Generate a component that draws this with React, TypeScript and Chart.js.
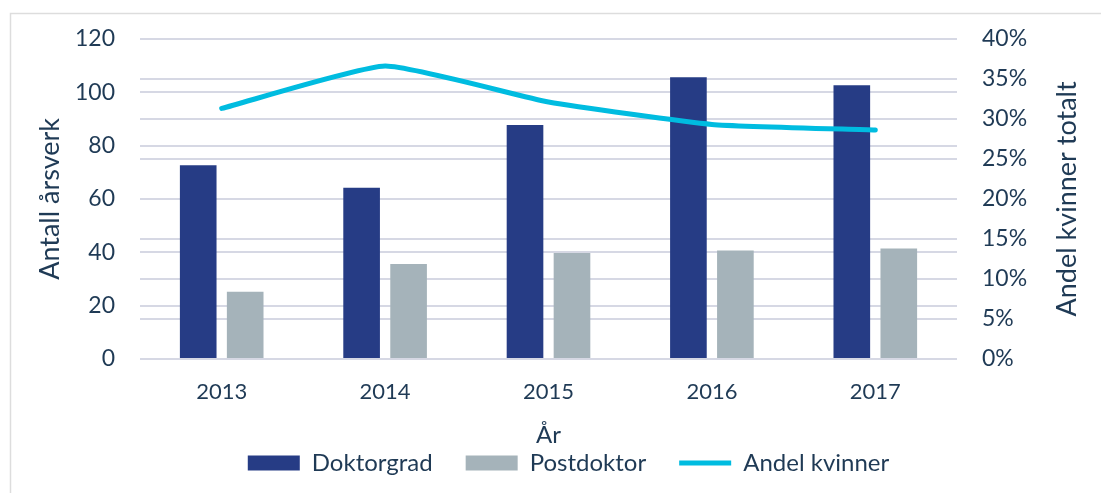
import React, { useEffect, useRef } from "react";
import { Chart, registerables } from "chart.js";

Chart.register(...registerables);

const categories = ["2013", "2014", "2015", "2016", "2017"];
const doktorgrad = [72.6, 64.2, 87.7, 105.6, 102.6];
const postdoktor = [25.2, 35.6, 39.7, 40.7, 41.4];
const andelKvinner = [31.3, 36.6, 32.1, 29.3, 28.6];

const leftTitle = "Antall årsverk";
const rightTitle = "Andel kvinner totalt";
const xTitle = "År";

const TEXT = "#1F3A55";
const GRID = "#D6D8E4";
const FONT = "Lato, 'Noto Sans', sans-serif";
const PAD_LEFT = 36;

export default function App() {
  const ref = useRef<HTMLCanvasElement | null>(null);

  useEffect(() => {
    const canvas = ref.current;
    if (!canvas) return;

    const decor = {
      id: "decor",
      beforeDraw(chart: any) {
        const ctx = chart.ctx;
        ctx.save();
        ctx.strokeStyle = "#DDDDDD";
        ctx.lineWidth = 1.5;
        ctx.beginPath();
        ctx.moveTo(10.5, chart.height);
        ctx.lineTo(10.5, 13.5);
        ctx.lineTo(chart.width, 13.5);
        ctx.stroke();
        ctx.restore();
      },
      afterDraw(chart: any) {
        const ctx = chart.ctx;
        const area = chart.chartArea;
        ctx.save();
        ctx.fillStyle = TEXT;
        ctx.font = `27px ${FONT}`;
        ctx.textAlign = "center";
        ctx.textBaseline = "middle";
        ctx.translate(1067, (area.top + area.bottom) / 2);
        ctx.rotate(-Math.PI / 2);
        ctx.fillText(rightTitle, 0, 0);
        ctx.restore();
      },
    };

    const chart = new Chart(canvas, {
      type: "bar",
      data: {
        labels: categories,
        datasets: [
          {
            label: "Doktorgrad",
            data: doktorgrad,
            backgroundColor: "#263C85",
            borderWidth: 0,
            yAxisID: "y",
            categoryPercentage: 0.575,
            barPercentage: 0.78,
            pointStyle: "rect",
            order: 2,
          },
          {
            label: "Postdoktor",
            data: postdoktor,
            backgroundColor: "#A5B3BA",
            borderWidth: 0,
            yAxisID: "y",
            categoryPercentage: 0.575,
            barPercentage: 0.78,
            pointStyle: "rect",
            order: 3,
          },
          {
            type: "line",
            label: "Andel kvinner",
            data: andelKvinner,
            borderColor: "#00BCE0",
            backgroundColor: "#00BCE0",
            borderWidth: 5,
            borderCapStyle: "round",
            borderJoinStyle: "round",
            tension: 0.15,
            pointRadius: 0,
            pointHoverRadius: 0,
            pointStyle: "line",
            yAxisID: "y1",
            order: 1,
          } as any,
        ],
      },
      options: {
        animation: false,
        responsive: false,
        layout: { padding: { left: PAD_LEFT, right: 0, top: 28, bottom: 8 } },
        plugins: {
          tooltip: { enabled: false },
          legend: {
            position: "bottom",
            labels: {
              usePointStyle: true,
              pointStyleWidth: 52,
              boxHeight: 15,
              padding: 33,
              color: TEXT,
              font: { family: FONT, size: 24 },
              sort: (a: any, b: any) => a.datasetIndex - b.datasetIndex,
            },
          },
        },
        scales: {
          x: {
            grid: { display: false, drawTicks: false },
            border: { display: false },
            ticks: {
              color: TEXT,
              font: { family: FONT, size: 22 },
              padding: 20,
            },
            title: {
              display: true,
              text: xTitle,
              color: TEXT,
              font: { family: FONT, size: 24 },
              padding: { top: 0, bottom: -32 },
            },
            afterFit(scale: any) {
              scale.height = 59;
            },
          },
          y: {
            position: "left",
            min: 0,
            max: 120,
            ticks: {
              stepSize: 20,
              color: TEXT,
              font: { family: FONT, size: 23 },
              padding: 25,
            },
            grid: { color: GRID, lineWidth: 2, drawTicks: false },
            border: { display: false },
            title: {
              display: true,
              text: leftTitle,
              color: TEXT,
              font: { family: FONT, size: 27 },
              padding: { top: 50 - PAD_LEFT - 16.2, bottom: 0 },
            },
            afterFit(scale: any) {
              scale.width = 140 - PAD_LEFT;
            },
          },
          y1: {
            position: "right",
            min: 0,
            max: 40,
            ticks: {
              stepSize: 5,
              color: TEXT,
              font: { family: FONT, size: 23 },
              padding: 25,
              callback: (v: any) => `${v}%`,
            },
            grid: { color: GRID, lineWidth: 2, drawTicks: false },
            border: { display: false },
            afterFit(scale: any) {
              scale.width = 1101 - 957;
            },
          },
        },
      } as any,
      plugins: [decor],
    });

    return () => chart.destroy();
  }, []);

  return (
    <div style={{ position: "fixed", left: 0, top: 0, width: 1101, height: 493, background: "#fff" }}>
      <canvas ref={ref} width={1101} height={493} style={{ display: "block" }} />
    </div>
  );
}
